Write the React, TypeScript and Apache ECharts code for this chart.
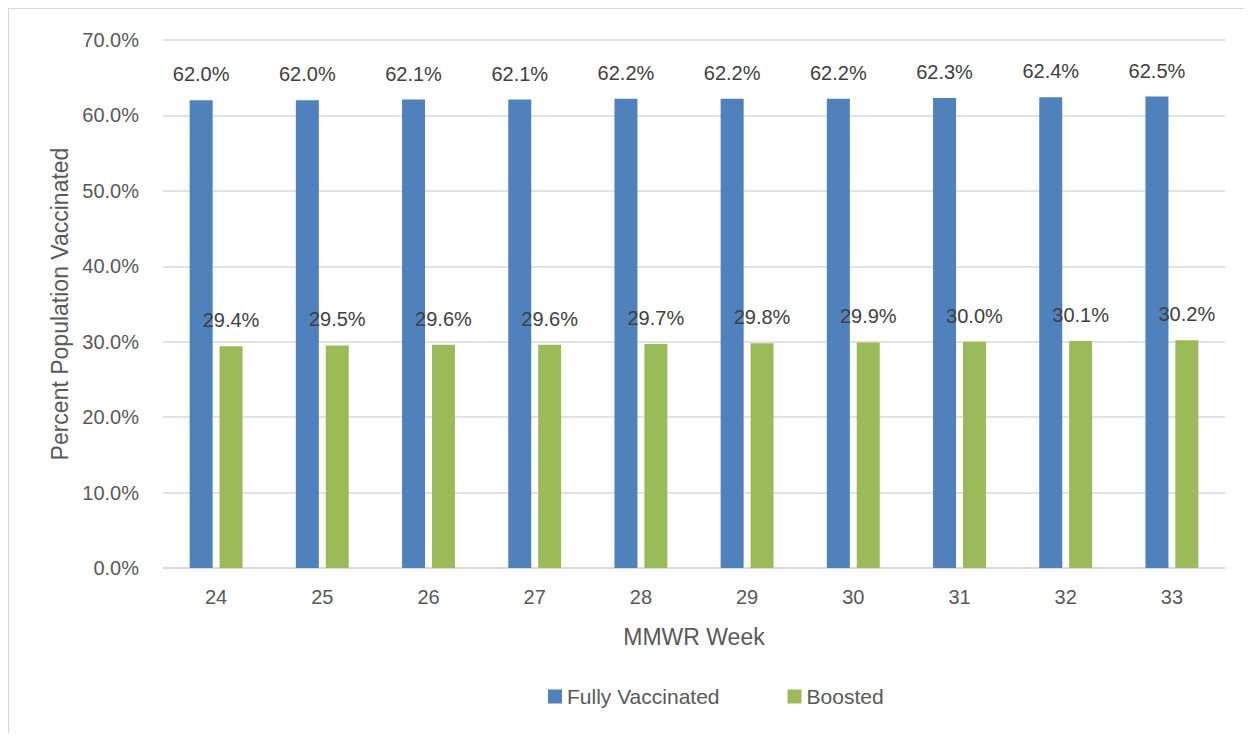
import React, { useEffect, useRef } from "react";
import * as echarts from "echarts";

const weeks = ["24", "25", "26", "27", "28", "29", "30", "31", "32", "33"];
const fullyVaccinated = [62.0, 62.0, 62.1, 62.1, 62.2, 62.2, 62.2, 62.3, 62.4, 62.5];
const boosted = [29.4, 29.5, 29.6, 29.6, 29.7, 29.8, 29.9, 30.0, 30.1, 30.2];

const FONT = "Liberation Sans";
const TEXT = "#595959";

export default function App() {
  const ref = useRef<HTMLDivElement>(null);
  useEffect(() => {
    const chart = echarts.init(ref.current!, null, { renderer: "svg" });
    const label = {
      show: true,
      position: "top",
      distance: 16,
      color: "#404040",
      fontFamily: FONT,
      fontSize: 20,
      formatter: (p: any) => `${p.value.toFixed(1)}%`,
    };
    chart.setOption({
      animation: false,
      textStyle: { fontFamily: FONT },
      grid: { left: 154, top: 31, width: 1062, height: 528, containLabel: false },
      legend: {
        left: 534,
        top: 672,
        itemWidth: 14,
        itemHeight: 14,
        itemGap: 68,
        icon: "rect",
        textStyle: { color: TEXT, fontFamily: FONT, fontSize: 21 },
        data: ["Fully Vaccinated", "Boosted"],
      },
      xAxis: {
        type: "category",
        data: weeks,
        name: "MMWR Week",
        nameLocation: "middle",
        nameGap: 57,
        nameTextStyle: { color: TEXT, fontFamily: FONT, fontSize: 23 },
        axisLine: { lineStyle: { color: "#d9d9d9", width: 1.5 } },
        axisTick: { show: false },
        axisLabel: { color: TEXT, fontFamily: FONT, fontSize: 20, margin: 19 },
      },
      yAxis: {
        type: "value",
        min: 0,
        max: 70,
        interval: 10,
        name: "Percent Population Vaccinated",
        nameLocation: "middle",
        nameGap: 92,
        nameTextStyle: { color: TEXT, fontFamily: FONT, fontSize: 23 },
        axisLine: { show: false },
        axisTick: { show: false },
        splitLine: { lineStyle: { color: "#d9d9d9", width: 1.5 } },
        axisLabel: {
          color: TEXT,
          fontFamily: FONT,
          fontSize: 20,
          margin: 24,
          formatter: (v: number) => `${v.toFixed(1)}%`,
        },
      },
      series: [
        {
          name: "Fully Vaccinated",
          type: "bar",
          data: fullyVaccinated,
          barWidth: 23,
          barGap: "30%",
          itemStyle: { color: "#4f81bd" },
          label,
        },
        {
          name: "Boosted",
          type: "bar",
          data: boosted,
          barWidth: 23,
          itemStyle: { color: "#9bbb59" },
          label,
        },
      ],
    });
    return () => chart.dispose();
  }, []);
  return (
    <div
      style={{
        borderTop: "1px solid #d9d9d9",
        borderLeft: "1px solid #d9d9d9",
        width: 1236,
        height: 725,
        boxSizing: "border-box",
      }}
    >
      <div ref={ref} style={{ width: 1235, height: 724 }} />
    </div>
  );
}
